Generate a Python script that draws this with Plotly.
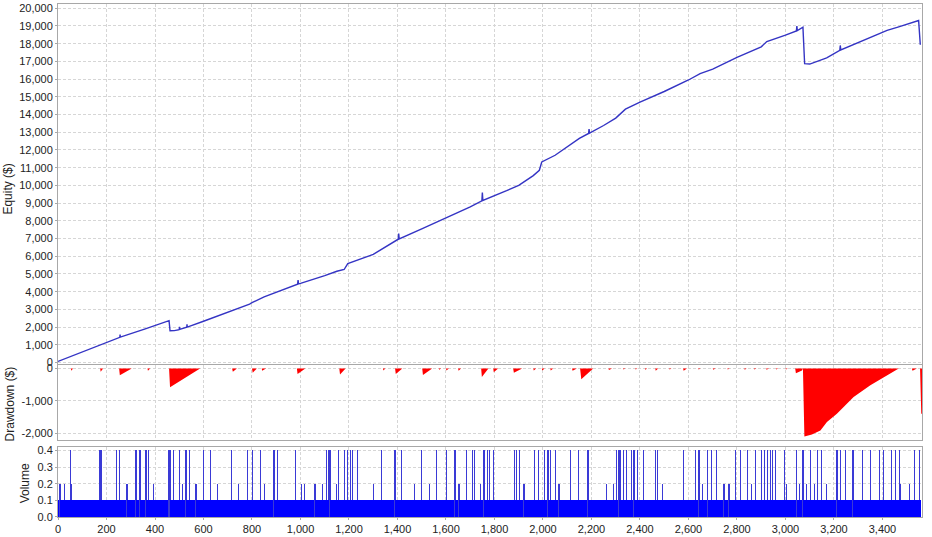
import plotly.graph_objects as go
from plotly.subplots import make_subplots

# ---------------- data ----------------
# Equity curve (trade number, equity $)
eq_trade = [0, 60, 175, 255, 256, 257, 360, 450, 458, 462, 480, 500, 501, 502, 531, 532, 533,
            600, 700, 790, 800, 850, 988, 990, 992, 1000, 1100, 1150, 1180, 1195, 1300,
            1403, 1405, 1407, 1500, 1600, 1700, 1748, 1750, 1752, 1780, 1850, 1900, 1960,
            1985, 1995, 2050, 2150, 2188, 2190, 2192, 2250, 2300, 2340, 2400, 2500, 2600,
            2648, 2700, 2786, 2800, 2900, 2923, 3000, 3045, 3047, 3049, 3072, 3079, 3100,
            3123, 3170, 3224, 3226, 3228, 3336, 3419, 3467, 3549, 3556]
eq_value = [60, 380, 1000, 1420, 1580, 1430, 1900, 2320, 2360, 1790, 1800, 1860, 2020, 1870, 1990, 2160, 2000,
            2330, 2820, 3300, 3380, 3700, 4420, 4650, 4440, 4470, 4900, 5150, 5250, 5580, 6100,
            6960, 7280, 6980, 7550, 8180, 8780, 9130, 9600, 9150, 9300, 9700, 10000, 10550,
            10850, 11320, 11700, 12650, 12930, 13180, 12950, 13380, 13800, 14300, 14700, 15300, 15950,
            16310, 16560, 17150, 17230, 17820, 18120, 18480, 18720, 19000, 18740, 18930, 16870, 16850,
            16950, 17200, 17620, 17900, 17650, 18280, 18750, 18950, 19310, 17940]

# Drawdown ($)
dd_trade = [0, 53, 55, 62, 174, 176, 186, 252, 255, 304, 369, 371, 380, 458, 462, 586,
            718, 721, 738, 800, 803, 820, 840, 842, 858, 985, 988, 1020, 1160, 1163, 1186,
            1340, 1342, 1350, 1390, 1393, 1420, 1502, 1505, 1543, 1570, 1572, 1580, 1600, 1602, 1612,
            1650, 1652, 1662, 1745, 1748, 1775, 1795, 1797, 1815, 1877, 1880, 1914,
            1960, 1962, 1972, 1995, 1997, 2007, 2030, 2032, 2042, 2120, 2122, 2140, 2153, 2158, 2207,
            2270, 2272, 2285, 2330, 2332, 2340, 2380, 2382, 2390, 2420, 2422, 2430, 2463, 2465, 2475,
            2520, 2522, 2530, 2578, 2580, 2594, 2640, 2642, 2650, 2700, 2702, 2712, 2760, 2762, 2770,
            2830, 2832, 2840, 2870, 2872, 2880, 2920, 2922, 2932, 2960, 2962, 2970, 3000, 3002, 3010,
            3040, 3043, 3068, 3072, 3078, 3109, 3144, 3171, 3212, 3281, 3350, 3419, 3467,
            3521, 3524, 3542, 3555, 3560, 3563]
dd_value = [0, 0, -70, 0, 0, -100, 0, 0, -210, 0, 0, -70, 0, 0, -580, 0,
            0, -100, 0, 0, -130, 0, 0, -70, 0, 0, -170, 0, 0, -185, 0,
            0, -60, 0, 0, -170, 0, 0, -200, 0, 0, -40, 0, 0, -60, 0,
            0, -70, 0, 0, -260, 0, 0, -120, 0, 0, -130, 0,
            0, -60, 0, 0, -60, 0, 0, -60, 0, 0, -70, 0, 0, -330, 0,
            0, -50, 0, 0, -30, 0, 0, -30, 0, 0, -40, 0, 0, -70, 0,
            0, -30, 0, 0, -70, 0, 0, -30, 0, 0, -40, 0, 0, -30, 0,
            0, -40, 0, 0, -30, 0, 0, -40, 0, 0, -30, 0, 0, -30, 0,
            0, -150, -60, 0, -2093, -2031, -1907, -1649, -1392, -876, -515, -206, 0,
            0, -70, 0, 0, -1390, -1390]

# Volume per trade: every trade is 0.1 lots except these
n_trades = 3558
base_volume = 0.1
vol_04_trades = [51, 170, 174, 178, 241, 253, 322, 338, 363, 373, 458, 462, 476, 501, 528, 542,
                 600, 630, 716, 781, 803, 836, 891, 905, 978, 1106, 1115, 1122, 1156, 1180,
                 1193, 1205, 1216, 1235, 1335, 1390, 1416, 1500, 1561, 1602, 1637, 1684, 1709,
                 1719, 1757, 1771, 1778, 1796, 1881, 1891, 1902, 1966, 1983, 2007, 2021, 2031,
                 2053, 2115, 2145, 2186, 2303, 2313, 2321, 2331, 2345, 2365, 2375, 2389, 2413,
                 2464, 2471, 2578, 2629, 2643, 2680, 2694, 2715, 2794, 2815, 2842, 2877, 2901,
                 2915, 2925, 2939, 2945, 2959, 2996, 3047, 3072, 3104, 3132, 3148, 3212, 3227,
                 3248, 3278, 3317, 3351, 3388, 3405, 3436, 3454, 3471, 3533, 3553]
vol_02_trades = [8, 26, 55, 285, 393, 514, 569, 657, 744, 850, 1005, 1015, 1060, 1092, 1147,
                 1301, 1469, 1533, 1654, 1743, 1922, 2066, 2262, 2290, 2492, 2657, 2746, 2767,
                 2860, 3003, 3058, 3086, 3120, 3168, 3474, 3512]

# Tick labels
x_tickvals = list(range(0, 3401, 200))
x_ticktext = ["0", "200", "400", "600", "800", "1,000", "1,200", "1,400", "1,600", "1,800",
              "2,000", "2,200", "2,400", "2,600", "2,800", "3,000", "3,200", "3,400"]
eq_tickvals = list(range(0, 20001, 1000))
eq_ticktext = ["0", "1,000", "2,000", "3,000", "4,000", "5,000", "6,000", "7,000", "8,000",
               "9,000", "10,000", "11,000", "12,000", "13,000", "14,000", "15,000", "16,000",
               "17,000", "18,000", "19,000", "20,000"]
dd_tickvals = [0, -1000, -2000]
dd_ticktext = ["0", "-1,000", "-2,000"]
vol_tickvals = [0.0, 0.1, 0.2, 0.3, 0.4]
vol_ticktext = ["0.0", "0.1", "0.2", "0.3", "0.4"]

# ---------------- build ----------------
trades = list(range(1, n_trades + 1))
volume = [base_volume] * n_trades
for t in vol_02_trades:
    volume[t - 1] = 0.2
for t in vol_04_trades:
    volume[t - 1] = 0.4
vol_colors = ["#0000ff" if v <= 0.1 else "#3a3ad6" for v in volume]

fig = make_subplots(rows=3, cols=1, shared_xaxes=True, vertical_spacing=0.01)
fig.add_trace(go.Scatter(x=eq_trade, y=eq_value, mode="lines",
                         line=dict(color="#3434c4", width=1.4), showlegend=False), row=1, col=1)
fig.add_trace(go.Scatter(x=dd_trade, y=dd_value, mode="lines", fill="tozeroy",
                         fillcolor="#ff0000", line=dict(color="rgba(255,0,0,0)", width=0),
                         showlegend=False), row=2, col=1)
fig.add_trace(go.Bar(x=trades, y=volume, marker=dict(color=vol_colors, line=dict(width=0)),
                     showlegend=False), row=3, col=1)

tick_font = dict(family="Liberation Sans, Arial, sans-serif", size=11, color="#222222")
common = dict(showgrid=True, gridcolor="#d6d6d6", griddash="3px,2px", gridwidth=1,
              showline=True, linecolor="#a8a8a8", linewidth=1, mirror=True,
              zeroline=False, tickfont=tick_font)

fig.update_xaxes(range=[0, 3563], tickvals=x_tickvals, ticktext=x_ticktext, **common)
fig.update_xaxes(ticks="outside", ticklen=2, tickcolor="#a8a8a8", row=3, col=1)
fig.update_yaxes(ticks="outside", ticklen=2, tickcolor="#a8a8a8", **common)

fig.update_layout(
    width=932, height=537,
    margin=dict(l=58, r=10, t=1, b=20),
    paper_bgcolor="white", plot_bgcolor="white",
    bargap=0,
    yaxis=dict(domain=[0.2984, 1.0], range=[-80, 20240],
               tickvals=eq_tickvals, ticktext=eq_ticktext),
    yaxis2=dict(domain=[0.1492, 0.2965], range=[-2216, 110],
                tickvals=dd_tickvals, ticktext=dd_ticktext),
    yaxis3=dict(domain=[0.0, 0.1362], range=[0, 0.42],
                tickvals=vol_tickvals, ticktext=vol_ticktext),
    font=dict(family="Liberation Sans, Arial, sans-serif", size=12, color="#222222"),
)

label_font = dict(family="Liberation Sans, Arial, sans-serif", size=12, color="#222222")
fig.add_annotation(text="Equity ($)", xref="paper", yref="paper", x=-0.058, y=0.64,
                   xanchor="center", yanchor="middle",
                   textangle=-90, showarrow=False, font=label_font)
fig.add_annotation(text="Drawdown ($)", xref="paper", yref="paper", x=-0.056, y=0.2207,
                   xanchor="center", yanchor="middle",
                   textangle=-90, showarrow=False, font=label_font)
fig.add_annotation(text="Volume", xref="paper", yref="paper", x=-0.038, y=0.066,
                   xanchor="center", yanchor="middle",
                   textangle=-90, showarrow=False, font=label_font)

fig.write_html("out.html", config={"displayModeBar": False},
               post_script="document.body.style.margin='0';")
